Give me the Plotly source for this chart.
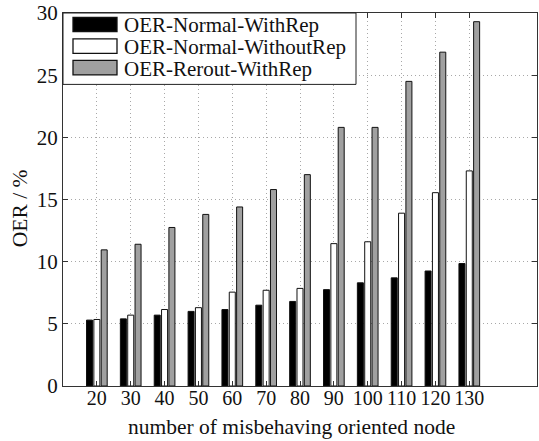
import plotly.graph_objects as go

categories = ["20", "30", "40", "50", "60", "70", "80", "90", "100", "110", "120", "130"]
series_names = ["OER-Normal-WithRep", "OER-Normal-WithoutRep", "OER-Rerout-WithRep"]
normal_with_rep = [5.3, 5.4, 5.7, 6.0, 6.15, 6.5, 6.8, 7.75, 8.3, 8.7, 9.25, 9.85]
normal_without_rep = [5.35, 5.7, 6.15, 6.3, 7.55, 7.7, 7.85, 11.45, 11.6, 13.9, 15.55, 17.3]
rerout_with_rep = [10.95, 11.4, 12.75, 13.8, 14.4, 15.8, 17.0, 20.8, 20.8, 24.5, 26.85, 29.3]
y_ticks = [0, 5, 10, 15, 20, 25, 30]

series_values = [normal_with_rep, normal_without_rep, rerout_with_rep]
fills = ["#000000", "#ffffff", "#a0a0a0"]

W, H = 539, 441
L, R, T, B = 63, 537, 12.5, 386
FONT = "'Liberation Serif', 'Times New Roman', Times, serif"

xpos = list(range(1, len(categories) + 1))

fig = go.Figure()
for name, vals, col in zip(series_names, series_values, fills):
    fig.add_trace(go.Bar(
        x=xpos, y=vals, name=name, marker=dict(color=col, line=dict(color="#111111", width=1)),
        showlegend=False,
    ))

def px_x(p):
    return (p - L) / (R - L)

def px_y(p):
    return (B - p) / (B - T)

shapes = []
annotations = []
# legend box
shapes.append(dict(type="rect", xref="paper", yref="paper", x0=0, x1=px_x(356), y0=px_y(84), y1=1,
                   fillcolor="white", line=dict(color="#222222", width=1), layer="above"))
sw_rows = [(17, 31), (38.5, 53), (60, 74.5)]
text_rows = [24.3, 46.3, 68.6]
for (y0, y1), ty, col, name in zip(sw_rows, text_rows, fills, series_names):
    shapes.append(dict(type="rect", xref="paper", yref="paper", x0=px_x(73), x1=px_x(117),
                       y0=px_y(y1), y1=px_y(y0), fillcolor=col,
                       line=dict(color="#111111", width=1.3), layer="above"))
    annotations.append(dict(xref="paper", yref="paper", x=px_x(121.5), y=px_y(ty),
                            xanchor="left", yanchor="middle", text=name, showarrow=False,
                            font=dict(family=FONT, size=21, color="#111111")))

annotations.append(dict(xref="paper", yref="paper", x=px_x(291.5), y=px_y(427), xanchor="center",
                        yanchor="middle", text="number of misbehaving oriented node", showarrow=False,
                        font=dict(family=FONT, size=21.5, color="#111111")))
annotations.append(dict(xref="paper", yref="paper", x=px_x(20), y=px_y(208), xanchor="center",
                        yanchor="middle", text="OER / %", showarrow=False, textangle=-90,
                        font=dict(family=FONT, size=21.5, color="#111111")))

fig.update_layout(
    width=W, height=H,
    margin=dict(l=L, r=W - R, t=T, b=H - B, pad=0),
    plot_bgcolor="white", paper_bgcolor="white",
    barmode="group", bargap=0.35, bargroupgap=0.18,
    shapes=shapes, annotations=annotations,
    font=dict(family=FONT, size=20, color="#111111"),
)
fig.update_xaxes(
    range=[0, 14], tickmode="array", tickvals=xpos, ticktext=categories,
    showline=True, linecolor="#333333", linewidth=1, mirror="ticks",
    ticks="inside", ticklen=5, tickcolor="#333333", ticklabelstandoff=-6,
    showgrid=True, gridcolor="#a8a8a8", griddash="1px,3px", gridwidth=1,
    zeroline=False, tickfont=dict(family=FONT, size=20, color="#111111"),
)
fig.update_yaxes(
    range=[0, 30], tickmode="array", tickvals=y_ticks,
    showline=True, linecolor="#333333", linewidth=1, mirror="ticks",
    ticks="inside", ticklen=5, tickcolor="#333333",
    showgrid=True, gridcolor="#a8a8a8", griddash="1px,3px", gridwidth=1,
    zeroline=False, tickfont=dict(family=FONT, size=21, color="#111111"),
)

fig.write_html("out.html")
